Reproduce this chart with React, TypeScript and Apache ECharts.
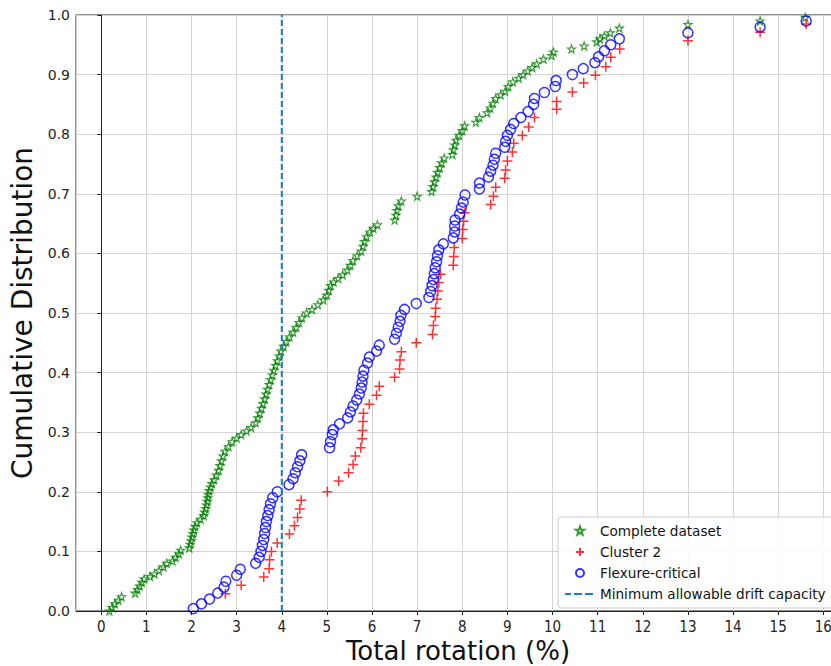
import React, { useEffect, useRef } from "react";
import * as echarts from "echarts";

// Complete dataset: [total rotation (%), cumulative distribution]
const completeData: [number, number][] = [
  [0.18, 0.0], [0.24, 0.006], [0.3, 0.012], [0.38, 0.018], [0.45, 0.024],
  [0.75, 0.03], [0.8, 0.036], [0.85, 0.042], [0.9, 0.048], [0.95, 0.054],
  [1.08, 0.058], [1.18, 0.062], [1.28, 0.068], [1.38, 0.074], [1.45, 0.08],
  [1.58, 0.084], [1.65, 0.09], [1.72, 0.096], [1.76, 0.102],
  [1.95, 0.106], [1.97, 0.112], [1.99, 0.118], [2.01, 0.124], [2.03, 0.13],
  [2.05, 0.136], [2.08, 0.142], [2.12, 0.148], [2.2, 0.154], [2.27, 0.16],
  [2.29, 0.166], [2.31, 0.172], [2.33, 0.178], [2.35, 0.184], [2.36, 0.19],
  [2.37, 0.196], [2.39, 0.202], [2.42, 0.208], [2.45, 0.214], [2.5, 0.22],
  [2.55, 0.228], [2.6, 0.236], [2.63, 0.244], [2.66, 0.252], [2.7, 0.26],
  [2.74, 0.268], [2.82, 0.276], [2.9, 0.284], [3.0, 0.29], [3.1, 0.296],
  [3.22, 0.302], [3.32, 0.308], [3.42, 0.316], [3.47, 0.324], [3.51, 0.332],
  [3.55, 0.34], [3.58, 0.348], [3.62, 0.356], [3.65, 0.364], [3.68, 0.372],
  [3.72, 0.38], [3.75, 0.388], [3.79, 0.396], [3.82, 0.404], [3.86, 0.412],
  [3.9, 0.42], [3.94, 0.428], [3.98, 0.436], [4.04, 0.444], [4.1, 0.452],
  [4.17, 0.46], [4.25, 0.468], [4.32, 0.476], [4.38, 0.484], [4.45, 0.492],
  [4.55, 0.5], [4.67, 0.506], [4.8, 0.514], [4.92, 0.522], [5.0, 0.53],
  [5.04, 0.538], [5.08, 0.546], [5.15, 0.552], [5.25, 0.558], [5.35, 0.564],
  [5.45, 0.572], [5.52, 0.58], [5.58, 0.588], [5.67, 0.596], [5.76, 0.604],
  [5.8, 0.612], [5.83, 0.62], [5.88, 0.628], [5.95, 0.636], [6.03, 0.642],
  [6.12, 0.648], [6.5, 0.656], [6.53, 0.664], [6.55, 0.672], [6.58, 0.68],
  [6.65, 0.688], [7.0, 0.696], [7.32, 0.704], [7.35, 0.712], [7.38, 0.72],
  [7.42, 0.728], [7.45, 0.736], [7.5, 0.744], [7.54, 0.752], [7.6, 0.76],
  [7.78, 0.766], [7.8, 0.774], [7.83, 0.782], [7.86, 0.79], [7.93, 0.798],
  [8.0, 0.806], [8.05, 0.814], [8.3, 0.82], [8.38, 0.828], [8.55, 0.836],
  [8.62, 0.844], [8.68, 0.852], [8.74, 0.86], [8.85, 0.866], [8.95, 0.872],
  [9.02, 0.88], [9.12, 0.888], [9.25, 0.894], [9.35, 0.9], [9.45, 0.906],
  [9.55, 0.912], [9.65, 0.918], [9.8, 0.926], [9.98, 0.932], [10.02, 0.938],
  [10.42, 0.943], [10.7, 0.948], [10.98, 0.955], [11.05, 0.96], [11.15, 0.965],
  [11.28, 0.97], [11.48, 0.978], [13.0, 0.984], [14.6, 0.99], [15.6, 0.996],
];

// Cluster 2
const cluster2Data: [number, number][] = [
  [2.75, 0.029], [3.1, 0.043], [3.6, 0.057], [3.72, 0.071], [3.73, 0.086],
  [3.77, 0.1], [3.9, 0.114], [4.17, 0.129], [4.28, 0.143], [4.35, 0.157],
  [4.4, 0.171], [4.43, 0.186], [5.01, 0.2], [5.26, 0.218], [5.48, 0.232],
  [5.58, 0.246], [5.63, 0.26], [5.75, 0.274], [5.78, 0.289], [5.79, 0.303],
  [5.8, 0.318], [5.81, 0.332], [5.94, 0.347], [6.1, 0.362], [6.16, 0.377],
  [6.5, 0.392], [6.61, 0.406], [6.62, 0.421], [6.65, 0.435], [6.98, 0.45],
  [7.34, 0.464], [7.36, 0.479], [7.4, 0.494], [7.41, 0.508], [7.44, 0.523],
  [7.46, 0.537], [7.48, 0.551], [7.52, 0.565], [7.8, 0.58], [7.81, 0.595],
  [7.82, 0.61], [8.0, 0.625], [8.01, 0.64], [8.03, 0.654], [8.05, 0.668],
  [8.63, 0.682], [8.69, 0.696], [8.74, 0.711], [8.94, 0.726], [8.96, 0.74],
  [9.0, 0.755], [9.11, 0.77], [9.14, 0.785], [9.33, 0.798], [9.47, 0.812],
  [9.6, 0.828], [10.09, 0.842], [10.09, 0.855], [10.44, 0.871], [10.69, 0.886],
  [10.95, 0.899], [11.18, 0.913], [11.29, 0.929], [11.49, 0.943], [13.0, 0.957],
  [14.6, 0.971], [15.62, 0.985],
];

// Flexure-critical
const flexureData: [number, number][] = [
  [2.04, 0.004], [2.22, 0.012], [2.4, 0.02], [2.58, 0.03], [2.72, 0.04],
  [2.76, 0.05], [3.0, 0.06], [3.08, 0.07], [3.42, 0.08], [3.5, 0.09],
  [3.54, 0.1], [3.57, 0.11], [3.6, 0.12], [3.62, 0.13], [3.64, 0.14],
  [3.66, 0.15], [3.69, 0.16], [3.72, 0.17], [3.75, 0.18], [3.8, 0.19],
  [3.9, 0.2], [4.16, 0.212], [4.25, 0.222], [4.3, 0.232], [4.35, 0.242],
  [4.4, 0.252], [4.44, 0.262], [5.06, 0.274], [5.08, 0.284], [5.12, 0.296],
  [5.14, 0.304], [5.28, 0.314], [5.46, 0.324], [5.52, 0.334], [5.58, 0.344],
  [5.66, 0.354], [5.72, 0.364], [5.76, 0.374], [5.78, 0.384], [5.8, 0.394],
  [5.82, 0.404], [5.9, 0.416], [5.94, 0.426], [6.1, 0.436], [6.16, 0.446],
  [6.5, 0.456], [6.54, 0.466], [6.58, 0.476], [6.62, 0.486], [6.64, 0.496],
  [6.72, 0.506], [6.98, 0.516], [7.26, 0.526], [7.3, 0.536], [7.33, 0.546],
  [7.36, 0.556], [7.38, 0.566], [7.4, 0.576], [7.43, 0.586], [7.45, 0.596],
  [7.48, 0.606], [7.58, 0.616], [7.8, 0.626], [7.83, 0.636], [7.83, 0.646],
  [7.84, 0.656], [7.94, 0.666], [7.98, 0.676], [8.02, 0.686], [8.06, 0.698],
  [8.38, 0.708], [8.38, 0.718], [8.58, 0.728], [8.63, 0.738], [8.68, 0.748],
  [8.71, 0.758], [8.74, 0.768], [8.94, 0.778], [8.96, 0.788], [9.0, 0.798],
  [9.07, 0.808], [9.14, 0.818], [9.3, 0.828], [9.46, 0.838], [9.58, 0.85],
  [9.6, 0.86], [9.82, 0.87], [10.06, 0.88], [10.08, 0.89], [10.44, 0.9],
  [10.68, 0.91], [10.94, 0.92], [11.02, 0.93], [11.15, 0.94], [11.29, 0.95],
  [11.48, 0.96], [13.0, 0.97], [14.6, 0.98], [15.62, 0.99],
];

// Minimum allowable drift capacity (vertical line at 4 %)
const driftCapacity = 4;
const yRange: [number, number] = [0, 1];

const seriesNames = [
  "Complete dataset",
  "Cluster 2",
  "Flexure-critical",
  "Minimum allowable drift capacity",
];

const STAR =
  "path://M50,2 L61,36 L97,36 L68,57 L79,92 L50,71 L21,92 L32,57 L3,36 L39,36 Z";
const PLUS = "path://M5,0 L5,10 M0,5 L10,5";

// legend icons drawn in a 30x10 box (corner move-tos fix the box)
const BOX = "M0,0 M30,10 ";
const LEG_STAR =
  "path://" +
  BOX +
  "M15,0.6 L16.05,3.6 L19.2,3.65 L16.7,5.55 L17.6,8.6 L15,6.8 L12.4,8.6 L13.3,5.55 L10.8,3.65 L13.95,3.6 Z";
const LEG_PLUS = "path://" + BOX + "M15,1 L15,9 M11,5 L19,5";
const LEG_CIRCLE =
  "path://" + BOX + "M19,5 A4,4 0 1 1 11,5 A4,4 0 1 1 19,5 Z";
const LEG_DASH =
  "path://" +
  BOX +
  "M0,4 L6,4 L6,6 L0,6 Z M9,4 L17,4 L17,6 L9,6 Z M20,4 L28,4 L28,6 L20,6 Z";

export default function App() {
  const ref = useRef<HTMLDivElement>(null);

  useEffect(() => {
    if (!ref.current) return;
    const chart = echarts.init(ref.current, undefined, { renderer: "svg" });
    const font = "DejaVu Sans";
    chart.setOption({
      animation: false,
      backgroundColor: "#ffffff",
      grid: {
        left: 76,
        top: 15,
        right: 0,
        bottom: 55,
        outerBoundsMode: "none",
        show: true,
        borderColor: "#222",
        borderWidth: 1,
        backgroundColor: "transparent",
      },
      xAxis: {
        type: "value",
        min: -0.56,
        max: 16.37,
        splitNumber: 17,
        name: "Total rotation (%)",
        nameLocation: "middle",
        nameGap: 27,
        nameMoveOverlap: false,
        nameTextStyle: {
          fontFamily: font,
          fontSize: 26,
          lineHeight: 26,
          color: "#111",
          verticalAlign: "top",
        },
        axisLine: { show: true, lineStyle: { color: "#222", width: 1 } },
        axisTick: { show: true, length: 4, lineStyle: { color: "#222" } },
        axisLabel: {
          fontFamily: "DejaVu Sans Condensed",
          fontSize: 15,
          lineHeight: 16,
          color: "#222",
          margin: 8,
          showMinLabel: false,
          showMaxLabel: false,
        },
        splitLine: { show: true, lineStyle: { color: "#d4d4d4", width: 1 } },
      },
      yAxis: {
        type: "value",
        min: yRange[0],
        max: yRange[1],
        interval: 0.1,
        name: "Cumulative Distribution",
        nameLocation: "middle",
        nameGap: 38,
        nameTextStyle: { fontFamily: font, fontSize: 28, color: "#111" },
        axisLine: { show: true, lineStyle: { color: "#222", width: 1 } },
        axisTick: { show: true, length: 4, lineStyle: { color: "#222" } },
        axisLabel: {
          fontFamily: font,
          fontSize: 14,
          color: "#222",
          margin: 6,
          formatter: (v: number) => v.toFixed(1),
        },
        splitLine: { show: true, lineStyle: { color: "#d4d4d4", width: 1 } },
      },
      legend: {
        orient: "vertical",
        left: 558,
        top: 517,
        padding: [7, 10, 7, 6],
        itemWidth: 30,
        itemHeight: 10,
        itemGap: 7,
        backgroundColor: "rgba(255,255,255,0.85)",
        borderColor: "#cccccc",
        borderWidth: 1,
        borderRadius: 3,
        textStyle: { fontFamily: font, fontSize: 13.6, color: "#111" },
        data: [
          { name: seriesNames[0], icon: LEG_STAR },
          { name: seriesNames[1], icon: LEG_PLUS },
          { name: seriesNames[2], icon: LEG_CIRCLE },
          { name: seriesNames[3], icon: LEG_DASH },
        ],
      },
      series: [
        {
          name: seriesNames[0],
          type: "scatter",
          data: completeData,
          symbol: STAR,
          symbolSize: 8,
          itemStyle: {
            color: "rgba(255,255,255,0)",
            borderColor: "#008000",
            borderWidth: 1.1,
          },
          z: 3,
        },
        {
          name: seriesNames[1],
          type: "scatter",
          data: cluster2Data,
          symbol: PLUS,
          symbolSize: 10,
          itemStyle: {
            color: "rgba(255,255,255,0)",
            borderColor: "#ff0000",
            borderWidth: 1.5,
          },
          z: 4,
        },
        {
          name: seriesNames[2],
          type: "scatter",
          data: flexureData,
          symbol: "circle",
          symbolSize: 10,
          itemStyle: {
            color: "rgba(255,255,255,0)",
            borderColor: "#0000ff",
            borderWidth: 1.5,
          },
          z: 5,
        },
        {
          name: seriesNames[3],
          type: "line",
          data: [
            [driftCapacity, yRange[0]],
            [driftCapacity, yRange[1]],
          ],
          symbol: "none",
          lineStyle: { color: "#1a7fc0", width: 2, type: [6, 3] },
          itemStyle: { color: "#1a7fc0" },
          z: 6,
        },
      ],
    });
    return () => chart.dispose();
  }, []);

  return (
    <div
      style={{
        position: "fixed",
        left: 0,
        top: 0,
        width: 831,
        height: 666,
        overflow: "hidden",
        background: "#fff",
      }}
    >
      <div ref={ref} style={{ width: 840, height: 666 }} />
    </div>
  );
}
